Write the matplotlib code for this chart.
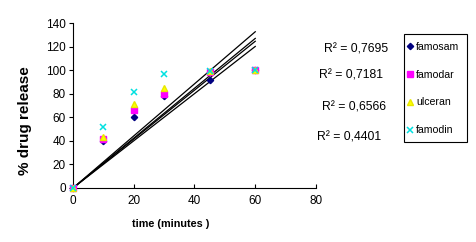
import numpy as np
import matplotlib
matplotlib.use("Agg")
import matplotlib.pyplot as plt
from matplotlib.patches import Rectangle

plt.rcParams['font.family'] = ['Liberation Sans', 'DejaVu Sans']

time_min = [0, 10, 20, 30, 45, 60]
famosam = [0, 39.5, 60.5, 78, 91.5, 100]
famodar = [0, 41.5, 66.5, 80, 98.5, 100]
ulceran = [0, 43.5, 71, 85, 99, 100]
famodin = [0, 52, 81.5, 96.5, 99.5, 100]
series_names = ["famosam", "famodar", "ulceran", "famodin"]
r2_labels = ["R² = 0,7695", "R² = 0,7181", "R² = 0,6566", "R² = 0,4401"]
x_ticks = [0, 20, 40, 60, 80]
y_ticks = [0, 20, 40, 60, 80, 100, 120, 140]

fig = plt.figure(figsize=(4.77, 2.42), dpi=100)
W, H = 477, 242
ax = fig.add_axes([73 / W, 1 - 188 / H, (316 - 73) / W, (188 - 23) / H])

styles = [
    dict(marker="D", color="#000080", ms=3.2, mec="#000080"),
    dict(marker="s", color="#FF00FF", ms=4.8, mec="#FF00FF"),
    dict(marker="^", color="#FFFF00", ms=4.8, mec="#E8E800"),
    dict(marker="x", color="#00E0E0", ms=5, mew=1.1),
]
x = np.array(time_min, dtype=float)
handles = []
for name, ys, st in zip(series_names, [famosam, famodar, ulceran, famodin], styles):
    h, = ax.plot(x, ys, linestyle="none", clip_on=False, label=name, zorder=3, **st)
    handles.append(h)
    y = np.array(ys, dtype=float)
    slope = np.sum(x * y) / np.sum(x * x)
    xl = np.array([0, 60])
    ax.plot(xl, slope * xl, color="black", lw=0.9, zorder=2)

ax.set_xlim(0, 80)
ax.set_ylim(0, 140)
ax.set_xticks(x_ticks)
ax.set_yticks(y_ticks)
ax.spines['top'].set_visible(False)
ax.spines['right'].set_visible(False)
for s in ['left', 'bottom']:
    ax.spines[s].set_linewidth(0.8)
ax.tick_params(axis='x', direction='in', length=3, labelsize=8.5, pad=5)
ax.tick_params(axis='y', direction='out', length=3, labelsize=8.5, pad=2)

fig.text(171 / W, 1 - 224 / H, "time (minutes )", ha="center", va="center",
         fontsize=7.8, fontweight="bold")
fig.text(25 / W, 1 - 121 / H, "% drug release", ha="center", va="center",
         rotation=90, fontsize=11, fontweight="bold")

r2_pos = [(388, 49), (383, 75), (386, 107), (381, 138)]
for lab, (px, py) in zip(r2_labels, r2_pos):
    fig.text(px / W, 1 - py / H, lab, ha="right", va="center", fontsize=8.8)

leg = fig.legend(handles=handles, labels=series_names, loc="upper left",
                 bbox_to_anchor=(407 / W, 1 - 42 / H), frameon=False,
                 fontsize=7.6, handlelength=0.6, handletextpad=0.25,
                 labelspacing=1.68, borderpad=0, borderaxespad=0)
fig.add_artist(Rectangle((404 / W, 1 - 142 / H), (467 - 404) / W, (142 - 34) / H,
                         transform=fig.transFigure, fill=False, edgecolor="black",
                         linewidth=0.8))

fig.savefig("out.png", dpi=100)
